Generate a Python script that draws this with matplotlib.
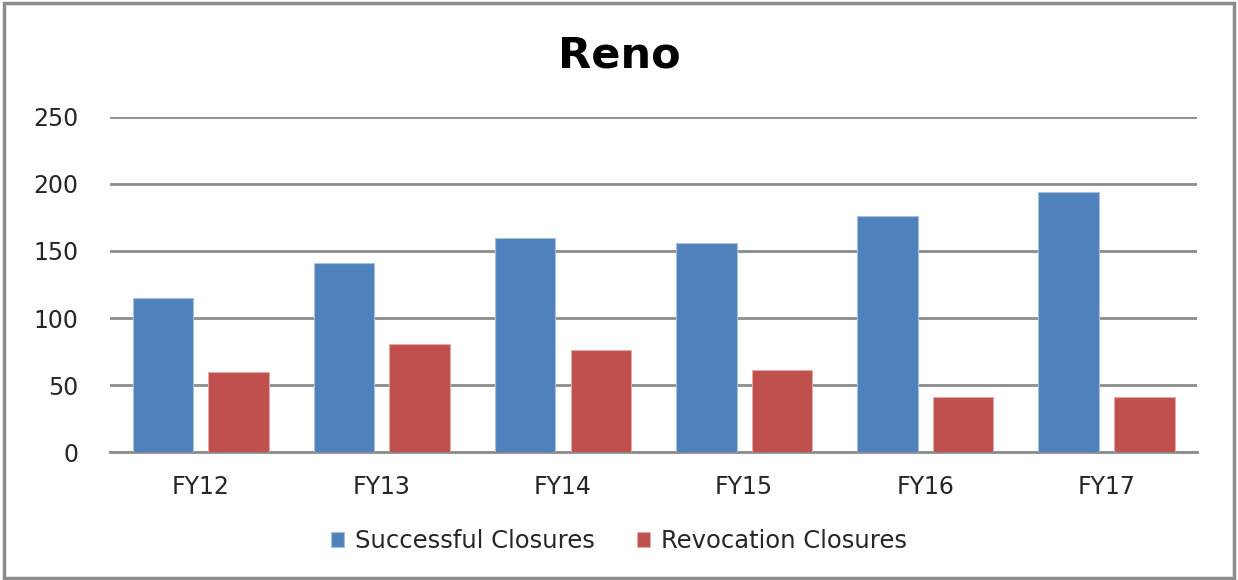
import numpy as np
import matplotlib
matplotlib.use('Agg')
from matplotlib import pyplot as plt
from matplotlib import rcParams
from matplotlib.patches import Rectangle

rcParams['font.family'] = ['DejaVu Sans']

#%% data
years = ['FY12', 'FY13', 'FY14', 'FY15', 'FY16', 'FY17']
successful = [115, 141, 160, 156, 176, 194]
revocation = [60, 81, 76, 61, 41, 41]
yticks = [0, 50, 100, 150, 200, 250]

#%%
fig = plt.figure(figsize=(12.38, 5.80), dpi=100)
ax = fig.add_axes([0.0889, 0.2202, 0.8780, 0.5786])

x = np.arange(len(years))
w = 0.334
off = 0.209
ax.bar(x - off, successful, width=w, color='#4F81BD', edgecolor='#A7C0DE', linewidth=0.8,
       label='Successful Closures', zorder=3)
ax.bar(x + off, revocation, width=w, color='#C0504D', edgecolor='#E0A8A6', linewidth=0.8,
       label='Revocation Closures', zorder=3)

ax.set_xlim(-0.5, len(years) - 0.5)
ax.set_ylim(0, 250)
ax.set_yticks(yticks)
ax.set_xticks(x)
ax.set_xticklabels(years)
ax.yaxis.grid(True, color='#8C8C8C', linewidth=2.0, zorder=0)
ax.set_axisbelow(True)
for s in ['top', 'right', 'left']:
    ax.spines[s].set_visible(False)
ax.spines['bottom'].set_color('#8C8C8C')
ax.spines['bottom'].set_linewidth(2.0)
ax.tick_params(axis='both', length=0, labelsize=17, colors='#262626')
ax.tick_params(axis='y', pad=23)
ax.tick_params(axis='x', pad=16)

fig.text(0.5, 0.905, 'Reno', ha='center', va='center', fontsize=31, fontweight='bold')

leg = fig.legend(loc='center', bbox_to_anchor=(0.5, 0.067), ncol=2, frameon=False,
                 fontsize=17.5, handlelength=0.55, handleheight=0.55, handletextpad=0.45,
                 columnspacing=1.7, labelcolor='#262626')

# outer chart border
fig.patches.append(Rectangle((0.003, 0.004), 0.994, 0.991, transform=fig.transFigure,
                             fill=False, edgecolor='#8C8C8C', linewidth=2.5))

fig.savefig('out.png', dpi=100)
